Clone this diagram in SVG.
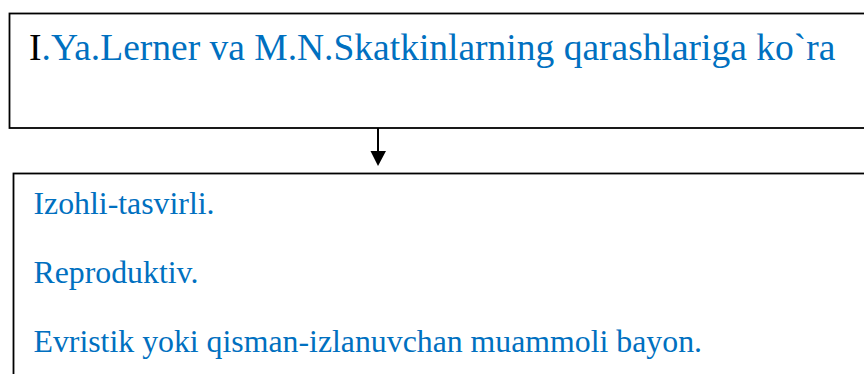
<svg xmlns="http://www.w3.org/2000/svg" width="864" height="374" viewBox="0 0 864 374">
<style>
.box{fill:#fff;stroke:#000;stroke-width:1.8}
text{font-family:'Liberation Serif','Times New Roman','DejaVu Serif',serif;fill:#0070C0}
.h{font-size:37.5px}
.b{font-size:31.8px}
</style>
<rect width="864" height="374" fill="#fff"/>
<g id="node-top">
<rect class="box" x="9.5" y="13.5" width="900" height="114.5"/>
<text class="h" x="29" y="60"><tspan fill="#000">I</tspan>.Ya.Lerner va M.N.Skatkinlarning qarashlariga ko`ra</text>
</g>
<g id="connectors">
<line x1="378" y1="128" x2="378" y2="152" stroke="#000" stroke-width="2"/>
<path d="M370.5,151 L386,151 L378,166 Z" fill="#000"/>
</g>
<g id="node-list">
<rect class="box" x="13.5" y="173.5" width="900" height="300"/>
<text class="b" x="33.5" y="214">Izohli-tasvirli.</text>
<text class="b" x="33.5" y="283">Reproduktiv.</text>
<text class="b" x="33.5" y="352">Evristik yoki qisman-izlanuvchan muammoli bayon.</text>
</g>
</svg>
